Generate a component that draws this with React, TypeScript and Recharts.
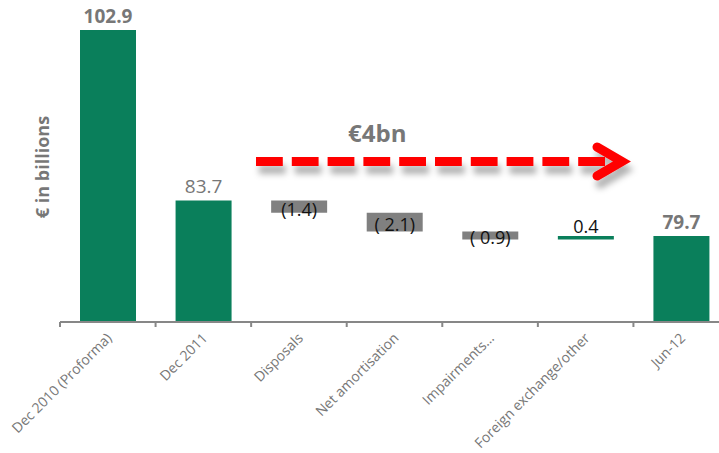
import React from 'react';
import { BarChart, Bar, XAxis, YAxis, Cell, LabelList, Customized } from 'recharts';

// Bridge from Dec 2010 to Jun-12 (€ billions)
const categories = [
  'Dec 2010 (Proforma)',
  'Dec 2011',
  'Disposals',
  'Net amortisation',
  'Impairments…',
  'Foreign exchange/other',
  'Jun-12',
];
const totals: (number | null)[] = [102.9, 83.7, null, null, null, null, 79.7];
const movements: (number | null)[] = [null, null, -1.4, -2.1, -0.9, 0.4, null];
const movementLabels = ['', '', '(1.4)', '( 2.1)', '( 0.9)', '0.4', ''];
const axisFloor = 70;
const bridgeNote = '€4bn';
const yTitle = '€ in billions';

const GREEN = '#0a7f5b';
const GREY = '#808080';
const TEXT_GREY = '#777777';
const FONT = '"Open Sans", "DejaVu Sans", sans-serif';

const CHART_W = 729;
const CHART_H = 453;
const MARGIN = { top: 30, right: 0, bottom: 0, left: 60 };
const BAND = (CHART_W - MARGIN.left - MARGIN.right) / categories.length;

type Row = { name: string; span: number | [number, number]; kind: 'total' | 'down' | 'up'; label: string };

let level = 0;
const data: Row[] = categories.map((name, i) => {
  const t = totals[i];
  const m = movements[i];
  if (t != null) {
    level = t;
    return { name, span: t, kind: 'total', label: t.toFixed(1) };
  }
  const from = level;
  level = Math.round((level + (m as number)) * 10) / 10;
  return {
    name,
    span: [Math.min(from, level), Math.max(from, level)],
    kind: (m as number) < 0 ? 'down' : 'up',
    label: movementLabels[i],
  };
});

const yMax = Math.max(...(totals.filter((v) => v != null) as number[]));

const CategoryTick = (props: any) => {
  const { x, y, payload } = props;
  const bx = x - BAND / 2;
  const tx = x + 5;
  const ty = y + 17;
  return (
    <g>
      <line x1={bx} x2={bx} y1={y} y2={y + 5} stroke="#878787" strokeWidth={2} />
      <text
        x={tx}
        y={ty}
        transform={`rotate(-45 ${tx} ${ty})`}
        textAnchor="end"
        fill={TEXT_GREY}
        fontSize={14}
        fontFamily={FONT}
      >
        {payload.value}
      </text>
    </g>
  );
};

const renderValueLabel = (props: any) => {
  const { x, y, width, height, index } = props;
  const row = data[index];
  const cx = x + width / 2;
  if (row.kind === 'total') {
    const bold = index === 0 || index === data.length - 1;
    return (
      <text
        x={cx}
        y={y - 7}
        textAnchor="middle"
        fill={TEXT_GREY}
        fontSize={19}
        fontWeight={bold ? 700 : 400}
        fontFamily={FONT}
      >
        {row.label}
      </text>
    );
  }
  if (row.kind === 'down') {
    return (
      <text
        x={cx}
        y={y + height / 2 + 2}
        textAnchor="middle"
        dominantBaseline="central"
        fill="#111"
        fontSize={18}
        fontFamily={FONT}
      >
        {row.label}
      </text>
    );
  }
  return (
    <text x={cx} y={y - 3} textAnchor="middle" fill="#111" fontSize={18} fontFamily={FONT}>
      {row.label}
    </text>
  );
};

const Annotations = () => (
  <g>
    <defs>
      <filter id="arrowShadow" x="-10%" y="-100%" width="130%" height="300%">
        <feDropShadow dx="3" dy="8" stdDeviation="3" floodColor="#000" floodOpacity="0.3" />
      </filter>
    </defs>
    <text
      x={49}
      y={167}
      transform="rotate(-90 49 167)"
      textAnchor="middle"
      fill={TEXT_GREY}
      fontSize={18}
      fontWeight={700}
      fontFamily={FONT}
    >
      {yTitle}
    </text>
    <text x={348} y={142} fill={TEXT_GREY} fontSize={24} fontWeight={700} fontFamily={FONT}>
      {bridgeNote}
    </text>
    <g filter="url(#arrowShadow)">
      <line
        x1={256}
        y1={161.5}
        x2={606}
        y2={161.5}
        stroke="#ff0000"
        strokeWidth={9}
        strokeDasharray="26.8 9"
      />
      <polyline
        points="597,147 622,161.5 597,176"
        fill="none"
        stroke="#ff0000"
        strokeWidth={9}
        strokeLinecap="round"
        strokeLinejoin="miter"
      />
    </g>
  </g>
);

export default function App() {
  return (
    <div
      style={{
        position: 'absolute',
        left: 0,
        top: 0,
        width: 719,
        height: 453,
        overflow: 'hidden',
        background: '#fff',
      }}
    >
      <BarChart width={CHART_W} height={CHART_H} data={data} margin={MARGIN}>
        <XAxis
          dataKey="name"
          height={CHART_H - 322}
          interval={0}
          tickLine={false}
          tickSize={0}
          tickMargin={0}
          axisLine={{ stroke: '#878787', strokeWidth: 2 }}
          tick={<CategoryTick />}
        />
        <YAxis hide domain={[axisFloor, yMax]} allowDataOverflow />
        <Bar dataKey="span" barSize={56} isAnimationActive={false}>
          {data.map((row, i) => (
            <Cell key={i} fill={row.kind === 'down' ? GREY : GREEN} />
          ))}
          <LabelList dataKey="label" content={renderValueLabel} />
        </Bar>
        <Customized component={Annotations} />
      </BarChart>
    </div>
  );
}
